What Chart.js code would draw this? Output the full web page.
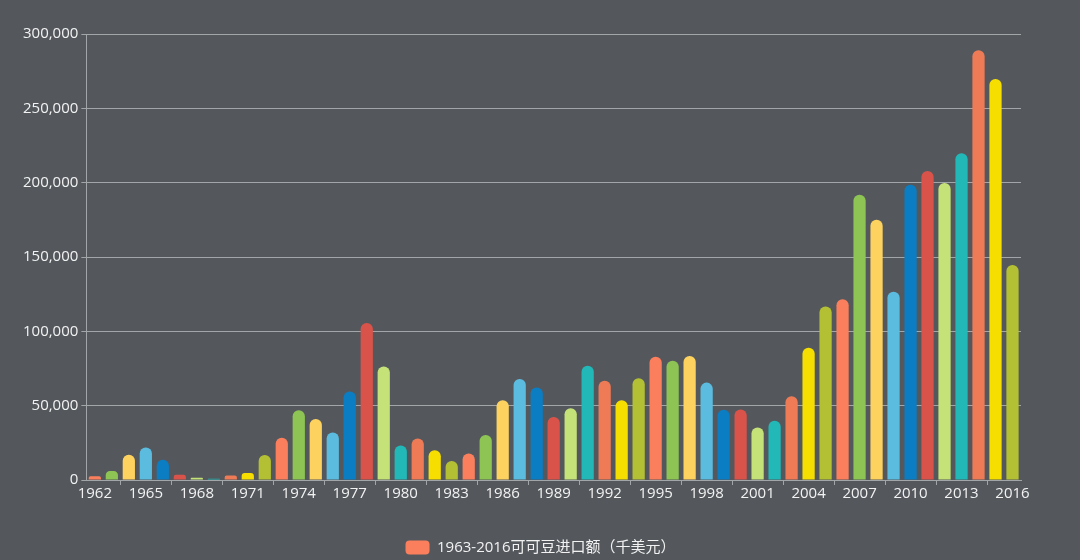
<!DOCTYPE html>
<html lang="zh">
<head>
    <meta charset="UTF-8">
    <title>可可豆进口额</title>
    <script src="https://cdn.jsdelivr.net/npm/chart.js"></script>
    <style>
        html, body { margin: 0; padding: 0; background: #54585d; }
        .wrap { width: 1080px; height: 560px; }
    </style>
</head>
<body>
    <div class="wrap"><canvas id="importChart"></canvas></div>

    <script>
        // years on the x axis
        const years = [];
        for (let y = 1962; y <= 2016; y++) years.push(String(y));

        // import value (thousand USD)
        const importValues = [
            2500, 6000, 17000, 21800, 13700, 3500, 1500, 800, 3000, 4700,
            16800, 28500, 47000, 41100, 31900, 59500, 105600, 76400, 23200, 27900,
            20000, 12800, 17800, 30200, 53600, 68000, 62200, 42300, 48200, 76800,
            66700, 53600, 68500, 82900, 80200, 83400, 65500, 47300, 47500, 35300,
            39900, 56300, 89000, 116700, 121600, 191900, 175000, 126600, 198600, 207900,
            199800, 219800, 289000, 269800, 144600
        ];

        // colour cycle of the bars
        const palette = [
            '#fb7f5d', '#8dc453', '#fdd25f', '#5cbce0', '#0b7dc3', '#d9534b',
            '#c5e279', '#22b8b8', '#ee7b56', '#f6df00', '#b4c033'
        ];

        const seriesLabel = '1963-2016可可豆进口额（千美元）';
        const yTicks = [0, 50000, 100000, 150000, 200000, 250000, 300000];

        const textColor = '#f2f2f2';
        const lineColor = '#a3a6a9';
        const fontFamily = '"Open Sans", "Noto Sans CJK SC", sans-serif';

        // legend sits a bit right of the chart's centre in the original
        const legendShift = {
            id: 'legendShift',
            afterLayout(chart) {
                chart.legend.left += 20;
                chart.legend.right += 20;
            }
        };

        const ctx = document.getElementById('importChart').getContext('2d');
        new Chart(ctx, {
            type: 'bar',
            data: {
                labels: years,
                datasets: [{
                    label: seriesLabel,
                    data: importValues,
                    backgroundColor: years.map((_, i) => palette[i % palette.length]),
                    borderRadius: 6,
                    barPercentage: 0.72,
                    categoryPercentage: 1
                }]
            },
            plugins: [legendShift],
            options: {
                responsive: true,
                maintainAspectRatio: false,
                animation: false,
                layout: { padding: { left: 20, right: 59, top: 34, bottom: -5 } },
                plugins: {
                    tooltip: { enabled: false },
                    legend: {
                        position: 'bottom',
                        labels: {
                            color: textColor,
                            font: { family: fontFamily, size: 15 },
                            boxWidth: 24,
                            boxHeight: 14,
                            useBorderRadius: true,
                            borderRadius: 4,
                            padding: 7,
                            generateLabels(chart) {
                                const items = Chart.defaults.plugins.legend.labels.generateLabels(chart);
                                items.forEach(it => {
                                    it.fillStyle = palette[0];
                                    it.strokeStyle = palette[0];
                                    it.lineWidth = 0;
                                });
                                return items;
                            }
                        }
                    }
                },
                scales: {
                    x: {
                        afterFit: axis => { axis.height += 30; },
                        grid: {
                            offset: true,
                            drawOnChartArea: false,
                            tickLength: 5,
                            color: c => (c.index % 3 === 2 ? lineColor : 'rgba(0,0,0,0)')
                        },
                        border: { display: true, color: lineColor },
                        ticks: {
                            autoSkip: false,
                            maxRotation: 0,
                            color: textColor,
                            padding: 0,
                            font: { family: fontFamily, size: 15 },
                            callback: (v, i) => (i % 3 === 0 ? years[i] : '')
                        }
                    },
                    y: {
                        min: 0,
                        max: 300000,
                        afterBuildTicks: axis => { axis.ticks = yTicks.map(v => ({ value: v })); },
                        grid: { color: lineColor, tickLength: 5 },
                        border: { display: true, color: lineColor },
                        ticks: {
                            color: textColor,
                            padding: 3,
                            font: { family: fontFamily, size: 15 },
                            callback: v => v.toLocaleString('en-US')
                        }
                    }
                }
            }
        });
    </script>
</body>
</html>
